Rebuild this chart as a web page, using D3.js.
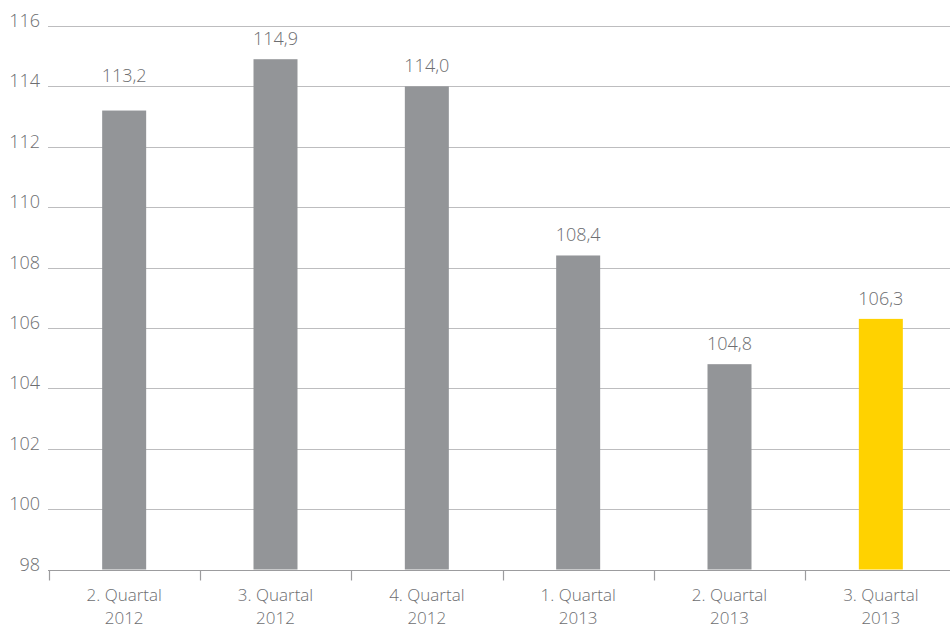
<!DOCTYPE html>
<html><head><meta charset="utf-8">
<script src="https://cdn.jsdelivr.net/npm/d3@7"></script>
<style>
html,body{margin:0;padding:0;background:#fff;overflow:hidden;}
svg{display:block;font-family:"Open Sans",sans-serif;}
</style></head>
<body>
<svg id="chart" width="950" height="628"></svg>
<script>
const categories = ["2. Quartal|2012","3. Quartal|2012","4. Quartal|2012","1. Quartal|2013","2. Quartal|2013","3. Quartal|2013"];
const values = [113.2, 114.9, 114.0, 108.4, 104.8, 106.3];
const labels = ["113,2","114,9","114,0","108,4","104,8","106,3"];
const highlight = [false,false,false,false,false,true];
const yTicks = [98,100,102,104,106,108,110,112,114,116];

const svg = d3.select("#chart");
const x = d3.scaleBand().domain(categories).range([48.5, 956.5]).padding(0);
const y = d3.scaleLinear().domain([98,116]).range([569.5, 26]);
const barW = 44;
const textColor = "#6d6e71";
const fontSize = 18;

// gridlines
svg.append("g").selectAll("line").data(yTicks.filter(d=>d>98)).join("line")
  .attr("x1",48).attr("x2",950)
  .attr("y1",d=>Math.round(y(d))+0.5).attr("y2",d=>Math.round(y(d))+0.5)
  .attr("stroke","#bdbdbf").attr("stroke-width",1.1);

// y labels
svg.append("g").selectAll("text").data(yTicks).join("text")
  .attr("x",40).attr("y",d=>y(d)+1)
  .attr("text-anchor","end")
  .attr("font-size",fontSize).attr("font-weight",300).attr("fill",textColor)
  .text(d=>d);

// bars
svg.append("g").selectAll("rect").data(values).join("rect")
  .attr("x",(d,i)=>x(categories[i])+x.bandwidth()/2-barW/2)
  .attr("width",barW)
  .attr("y",d=>y(d))
  .attr("height",d=>y(98)-y(d))
  .attr("fill",(d,i)=>highlight[i]?"#ffd200":"#939598");

// value labels (avoid gridline collision)
const gridYs = yTicks.map(t=>y(t));
svg.append("g").selectAll("text").data(values).join("text")
  .attr("x",(d,i)=>x(categories[i])+x.bandwidth()/2)
  .attr("y",d=>{
    let b = y(d)-14;
    const hit = gridYs.find(g=>g>b-14 && g<b+3);
    if (hit!==undefined) b = hit-4;
    return b;
  })
  .attr("text-anchor","middle")
  .attr("font-size",fontSize).attr("font-weight",300).attr("fill",textColor)
  .text((d,i)=>labels[i]);

// x axis
const xAxis = svg.append("g").attr("transform",`translate(0,${Math.round(y(98))+0.5})`);
xAxis.append("line").attr("x1",48).attr("x2",950).attr("stroke","#9c9c9e").attr("stroke-width",1.2);
const bounds = categories.map(c=>x(c)).concat([x.range()[1]]);
xAxis.selectAll("line.tick").data(bounds).join("line").attr("class","tick")
  .attr("x1",d=>Math.round(d)+0.5).attr("x2",d=>Math.round(d)+0.5)
  .attr("y1",0).attr("y2",10)
  .attr("stroke","#9c9c9e").attr("stroke-width",1.2);
const xl = xAxis.selectAll("g.xl").data(categories).join("g").attr("class","xl");
xl.each(function(d){
  const parts = d.split("|");
  const g = d3.select(this);
  parts.forEach((p,k)=>{
    g.append("text")
      .attr("x",x(d)+x.bandwidth()/2)
      .attr("y",30.5 + k*23.4)
      .attr("text-anchor","middle")
      .attr("font-size",17).attr("font-weight",300).attr("fill",textColor)
      .text(p);
  });
});
</script>
</body></html>
